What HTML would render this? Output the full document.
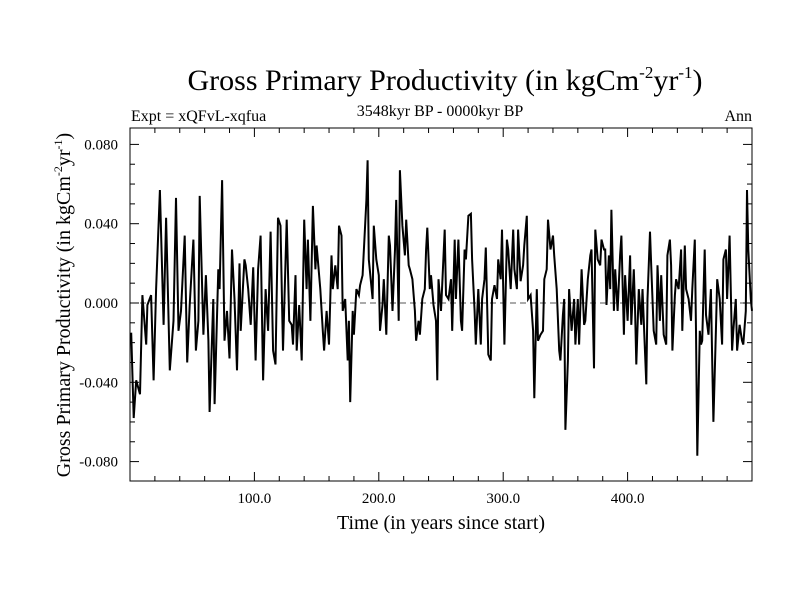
<!DOCTYPE html>
<html><head><meta charset="utf-8"><style>body{margin:0;background:#fff}svg{display:block}</style></head>
<body>
<svg id="chart" width="800" height="600" xmlns="http://www.w3.org/2000/svg" font-family="'Liberation Serif', serif">
<text x="445" y="90" font-size="30" text-anchor="middle">Gross Primary Productivity (in kgCm<tspan font-size="17" dy="-12">-2</tspan><tspan dy="12">yr</tspan><tspan font-size="17" dy="-12">-1</tspan><tspan dy="12">)</tspan></text>
<text x="131" y="121" font-size="16">Expt = xQFvL-xqfua</text>
<text x="440" y="116" font-size="16" text-anchor="middle">3548kyr BP - 0000kyr BP</text>
<text x="752" y="121" font-size="16" text-anchor="end">Ann</text>
<text x="441" y="529" font-size="20" text-anchor="middle">Time (in years since start)</text>
<text transform="translate(70,305) rotate(-90)" font-size="20" text-anchor="middle">Gross Primary Productivity (in kgCm<tspan font-size="12" dy="-8">-2</tspan><tspan dy="8">yr</tspan><tspan font-size="12" dy="-8">-1</tspan><tspan dy="8">)</tspan></text>
<g id="axes"></g>
<g id="series"></g>
</svg>
<script>
const years=[1,3,5,8,10,13,14,17,19,21,24,27,29,32,35,37,39,41,44,46,48,51,53,55,56,59,61,63,64,67,68,71,72,74,76,78,80,82,84,86,88,89,92,93,95,97,99,101,103,105,107,109,111,113,115,117,119,121,123,126,128,130,131,133,134,136,138,140,142,143,145,147,149,150,153,155,156,158,160,162,163,165,167,168,170,171,173,175,176,177,179,180,182,184,185,187,188,190,191,192,195,196,198,200,201,203,204,206,208,209,211,213,214,216,217,219,221,222,224,225,227,229,230,232,233,235,237,238,239,241,242,244,246,247,248,250,251,253,254,256,258,259,261,262,264,266,267,269,270,272,274,275,277,278,280,282,283,285,286,288,290,291,293,295,296,298,299,301,303,304,306,308,309,311,312,314,316,317,319,320,322,324,325,327,328,330,332,333,335,336,338,340,341,343,345,346,348,349,350,352,353,355,357,358,360,361,363,365,366,368,370,371,373,374,376,378,379,381,382,383,385,386,387,389,390,392,394,395,397,398,400,402,403,405,406,407,409,411,412,415,416,418,419,421,423,424,426,427,429,431,432,434,435,436,438,439,441,443,444,446,447,449,451,452,454,455,456,458,459,460,462,463,465,467,468,469,471,472,474,476,477,479,480,482,484,485,487,488,490,492,493,495,496,497,499,500];
const gpp=[-0.015,-0.058,-0.039,-0.046,0.004,-0.021,-0.001,0.004,-0.039,0.007,0.057,-0.011,0.043,-0.034,-0.009,0.053,-0.014,-0.004,0.034,-0.030,-0.001,0.032,-0.024,-0.009,0.054,-0.016,0.014,-0.019,-0.055,0.002,-0.051,0.017,0.007,0.062,-0.019,-0.004,-0.028,0.027,0.002,-0.034,0.020,-0.014,0.022,0.019,0.007,-0.011,0.018,-0.029,0.017,0.034,-0.039,0.007,-0.014,0.036,-0.024,-0.031,0.043,0.039,-0.024,0.042,-0.009,-0.011,-0.021,0.014,-0.024,-0.001,-0.029,0.042,0.007,0.032,-0.009,0.049,0.017,0.029,0.007,-0.014,-0.024,-0.004,-0.021,0.024,0.007,0.019,0.007,0.039,0.034,-0.004,0.002,-0.029,-0.009,-0.050,-0.004,-0.016,0.007,0.004,0.009,0.014,0.027,0.052,0.072,0.022,0.002,0.039,0.022,0.014,-0.014,-0.001,0.012,-0.016,0.034,0.029,-0.004,0.027,0.052,-0.009,0.067,0.039,0.024,0.042,0.019,0.017,0.012,-0.004,-0.019,-0.009,-0.016,0.002,0.007,0.027,0.038,0.007,0.014,-0.001,-0.009,-0.039,0.012,-0.004,0.009,0.037,0.004,0.002,0.012,-0.014,0.032,0.002,0.032,-0.009,-0.014,0.027,0.022,0.044,0.045,0.022,-0.004,-0.021,0.007,-0.021,0.002,0.012,0.028,-0.026,-0.029,0.002,0.009,0.002,0.022,0.012,0.037,-0.021,0.032,0.027,0.007,0.037,0.017,0.007,0.037,0.011,0.019,0.029,0.044,0.002,0.004,-0.014,-0.048,0.007,-0.019,-0.016,-0.014,0.012,0.017,0.042,0.027,0.034,0.024,0.007,-0.024,-0.029,-0.006,0.002,-0.064,-0.029,0.007,-0.014,0.002,-0.021,0.002,-0.021,0.017,-0.011,-0.009,0.012,0.024,0.027,-0.033,0.037,0.022,0.019,0.032,0.027,0.027,-0.001,0.024,0.007,0.047,-0.004,0.017,-0.004,0.024,0.034,-0.016,0.014,-0.009,0.024,-0.011,0.017,-0.004,-0.031,0.007,-0.011,0.007,-0.041,0.002,0.036,0.019,-0.014,-0.021,0.019,-0.009,0.014,-0.016,-0.021,0.024,0.032,0.019,-0.024,0.004,0.012,0.007,0.027,-0.014,0.029,0.007,0.002,-0.009,0.007,0.032,-0.014,-0.077,-0.014,-0.021,-0.019,0.027,-0.006,-0.016,0.007,-0.029,-0.060,-0.014,0.012,0.002,-0.021,0.022,0.027,0.002,0.034,-0.024,-0.014,0.002,-0.024,-0.011,-0.019,-0.021,-0.004,0.057,0.027,0.002,-0.004];
const yTicks=[0.08,0.04,0,-0.04,-0.08];
const yTickLabels=["0.080","0.040","0.000","-0.040","-0.080"];
const xTicks=[100,200,300,400];
const xTickLabels=["100.0","200.0","300.0","400.0"];
const X0=130,X1=752,Y0=128,Y1=481;
const xs=v=>X0+(v-0)*(X1-X0)/500;
const ys=v=>303-v*1982.5;
const NS="http://www.w3.org/2000/svg";
const axes=document.getElementById('axes');
function mk(tag,attrs,parent){const e=document.createElementNS(NS,tag);for(const k in attrs)e.setAttribute(k,attrs[k]);parent.appendChild(e);return e;}
let frame=mk('rect',{x:X0,y:Y0,width:X1-X0,height:Y1-Y0,fill:'none',stroke:'#000','stroke-width':1},axes);


let zl=mk('line',{x1:X0,x2:X1,y1:ys(0),y2:ys(0),stroke:'#555','stroke-dasharray':'6,4','stroke-width':1},axes);


for(let v=-0.09;v<=0.0901;v+=0.01){const y=ys(v);if(y<Y0||y>Y1)continue;const major=Math.abs(Math.round(v*100)%4)===0;const L=major?9:5;
 mk('line',{x1:X0,x2:X0+L,y1:y,y2:y,stroke:'#000'},axes);mk('line',{x1:X1,x2:X1-L,y1:y,y2:y,stroke:'#000'},axes);}
yTicks.forEach((v,i)=>{const t=mk('text',{x:118,y:ys(v)+5,'font-size':15,'text-anchor':'end'},axes);t.textContent=yTickLabels[i];
 
 });
for(let v=20;v<500;v+=20){const x=xs(v);const L=v%100===0?9:5;
 mk('line',{x1:x,x2:x,y1:Y1,y2:Y1-L,stroke:'#000'},axes);mk('line',{x1:x,x2:x,y1:Y0,y2:Y0+L,stroke:'#000'},axes);}
xTicks.forEach((v,i)=>{const t=mk('text',{x:xs(v),y:503,'font-size':15,'text-anchor':'middle'},axes);t.textContent=xTickLabels[i];
 
 });
const pts=years.map((yr,i)=>xs(yr).toFixed(1)+','+ys(gpp[i]).toFixed(1)).join(' ');
const line=mk('polyline',{points:pts,fill:'none',stroke:'#000','stroke-width':2,'stroke-linejoin':'miter'},document.getElementById('series'));


</script>
</body></html>
